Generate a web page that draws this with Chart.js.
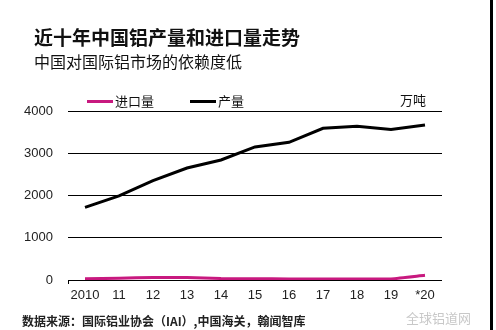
<!DOCTYPE html>
<html>
<head>
<meta charset="utf-8">
<script src="https://cdn.jsdelivr.net/npm/chart.js@4"></script>
<style>
  body { margin: 0; background: #fff; }
  #wrap { position: relative; width: 496px; height: 330px; overflow: hidden; font-family: "Noto Sans CJK SC", sans-serif; color: #111; }
  #chart { position: absolute; left: 0; top: 0; }
  .txt { position: absolute; white-space: nowrap; }
  #title { left: 34px; top: 25px; font-size: 19px; font-weight: bold; line-height: 24px; }
  #subtitle { left: 34px; top: 50px; font-size: 16px; line-height: 22px; }
  #unit { left: 400px; top: 91px; font-size: 13px; line-height: 18px; }
  #source { left: 22px; top: 312px; font-size: 12px; line-height: 18px; font-weight: bold; color: #222; }
  #mark { left: 406px; top: 309px; font-size: 13px; line-height: 18px; color: #c8c8c8; }
  #border { position: absolute; left: 490px; top: 0; width: 3px; height: 330px; background: #000; }
  .leg { position: absolute; top: 92px; font-size: 13px; line-height: 18px; }
  .leg span { display: inline-block; width: 26px; height: 3px; vertical-align: middle; margin-right: 2px; position: relative; top: -1px; }
</style>
</head>
<body>
<div id="wrap">
  <canvas id="chart" width="496" height="330"></canvas>
  <div class="txt" id="title">近十年中国铝产量和进口量走势</div>
  <div class="txt" id="subtitle">中国对国际铝市场的依赖度低</div>
  <div class="txt" id="unit">万吨</div>
  <div class="txt" id="source">数据来源：国际铝业协会（IAI）,中国海关，翰闻智库</div>
  <div class="txt" id="mark">全球铝道网</div>
  <div id="border"></div>
</div>
<script>
// years on the x axis
const years = ['2010', '11', '12', '13', '14', '15', '16', '17', '18', '19', '*20']
// 万吨
const imports = [30, 40, 60, 60, 35, 30, 25, 25, 25, 25, 110]
const production = [1720, 1990, 2350, 2650, 2840, 3150, 3260, 3590, 3640, 3560, 3670]
const seriesNames = ['进口量', '产量']
const seriesColors = ['#c8197f', '#000000']
const legendLeft = [87, 190]

var chart = new Chart(document.getElementById('chart'), {
    type: 'line',
    data: {
        labels: years,
        datasets: [
            { label: seriesNames[0], data: imports, borderColor: seriesColors[0], borderWidth: 3, pointRadius: 0, tension: 0.2 },
            { label: seriesNames[1], data: production, borderColor: seriesColors[1], borderWidth: 3, pointRadius: 0, tension: 0 }
        ]
    },
    options: {
        responsive: false,
        animation: false,
        layout: { padding: { left: 0, top: 111, right: 54, bottom: 0 } },
        plugins: { legend: { display: false }, tooltip: { enabled: false } },
        scales: {
            x: {
                offset: true,
                border: { display: false },
                grid: {
                    offset: true,
                    drawOnChartArea: false,
                    tickLength: 4,
                    color: (ctx) => ctx.index === 0 ? '#000' : 'rgba(0,0,0,0)'
                },
                ticks: { autoSkip: false, color: '#222', font: { family: 'Liberation Sans', size: 13 }, padding: 4, maxRotation: 0 },
                afterFit: (scale) => { scale.height = 50 }
            },
            y: {
                min: 0,
                max: 4000,
                border: { display: false },
                grid: { color: '#000', lineWidth: 1, drawTicks: false },
                ticks: {
                    stepSize: 1000, color: '#222', font: { family: 'Liberation Sans', size: 13 }, padding: 15,
                    callback: (v) => String(v)
                },
                afterFit: (scale) => { scale.width = 68 }
            }
        }
    }
})

// legend as plain html from the series arrays
seriesNames.forEach((name, i) => {
    var d = document.createElement('div')
    d.className = 'leg'
    d.style.left = legendLeft[i] + 'px'
    d.innerHTML = '<span style="background:' + seriesColors[i] + '"></span>' + name
    document.getElementById('wrap').appendChild(d)
})
</script>
</body>
</html>
